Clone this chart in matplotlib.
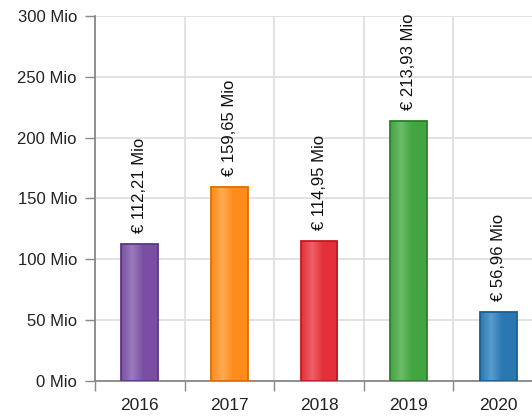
import numpy as np
import matplotlib.pyplot as plt
from matplotlib.colors import LinearSegmentedColormap

plt.rcParams['font.family'] = ['Liberation Sans', 'DejaVu Sans']

years = ["2016", "2017", "2018", "2019", "2020"]
values = [112.21, 159.65, 114.95, 213.93, 56.96]
labels = ["€ 112,21 Mio", "€ 159,65 Mio", "€ 114,95 Mio", "€ 213,93 Mio", "€ 56,96 Mio"]
colors = ["#7a4fa3", "#ff8c1a", "#e3303a", "#43a541", "#2a78b2"]
light = ["#9a7bbd", "#ffaa55", "#ee6068", "#6cbc6a", "#5a9ccc"]
edges = ["#5a3886", "#e06c00", "#c01c22", "#2c7f2c", "#1c5e90"]

fig = plt.figure(figsize=(5.32, 4.16), dpi=100)
ax = fig.add_axes([95/532, 35/416, 448/532, 365/416])

x = np.arange(len(years))
w = 0.41
bars = ax.bar(x, values, width=w, color=colors, edgecolor=edges, linewidth=1.3, zorder=3)

# subtle gradient fill inside each bar
for b, c, l in zip(bars, colors, light):
    cmap = LinearSegmentedColormap.from_list("g", [(0, c), (0.3, l), (0.6, c), (1, c)])
    grad = np.linspace(0, 1, 100).reshape(1, -1)
    x0, y0 = b.get_x(), b.get_y()
    im = ax.imshow(grad, cmap=cmap, aspect="auto", zorder=3.5,
                   extent=[x0, x0 + b.get_width(), y0, y0 + b.get_height()])
    im.set_clip_path(b)
    b.set_facecolor("none")
    b.set_zorder(4)

for xi, v, t in zip(x, values, labels):
    ax.annotate(t, (xi, v), xytext=(0, 8), textcoords="offset points",
                rotation=90, ha="center", va="bottom", fontsize=12, color="#111111", zorder=5)

ax.set_xlim(-0.5, 4.5)
ax.set_ylim(0, 300)
ax.set_yticks(np.arange(0, 301, 50))
ax.set_yticklabels([f"{v} Mio" for v in range(0, 301, 50)])
ax.set_xticks(x)
ax.set_xticklabels(years)
ax.set_xticks(np.arange(-0.5, 4.6, 1), minor=True)

ax.tick_params(axis="y", length=7, width=1, color="#888888", labelsize=12, pad=6, labelcolor="#222222")
ax.tick_params(axis="x", which="major", length=0, labelsize=12.5, pad=12, labelcolor="#222222")
ax.tick_params(axis="x", which="minor", length=7, width=1, color="#888888")

ax.grid(axis="y", color="#dddddd", linewidth=1.2, zorder=0)
ax.grid(axis="x", which="minor", color="#dddddd", linewidth=1.2, zorder=0)
ax.set_axisbelow(True)

for s in ["top", "right"]:
    ax.spines[s].set_visible(False)
for s in ["left", "bottom"]:
    ax.spines[s].set_color("#888888")
    ax.spines[s].set_linewidth(1.3)

fig.savefig("out.png", dpi=100)
